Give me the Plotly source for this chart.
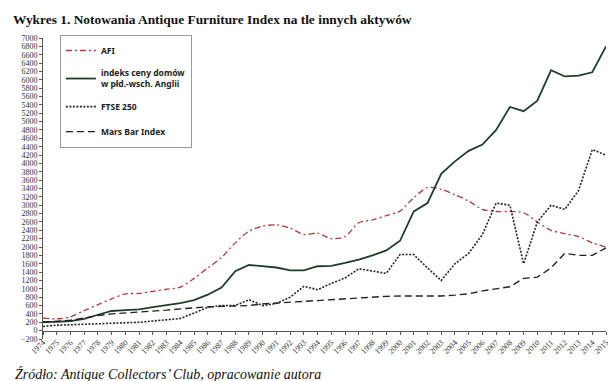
import plotly.graph_objects as go

years = list(range(1974, 2016))

afi = [300, 280, 330, 480, 620, 760, 880, 890, 940, 990, 1040, 1250, 1500, 1750,
       2100, 2380, 2500, 2530, 2450, 2300, 2330, 2200, 2250, 2580, 2650, 2750,
       2860, 3180, 3420, 3380, 3250, 3100, 2900, 2850, 2850, 2820, 2600, 2400,
       2320, 2250, 2100, 2000]

house = [210, 210, 230, 280, 380, 470, 490, 510, 560, 610, 660, 730, 860, 1030,
         1420, 1570, 1540, 1510, 1440, 1440, 1540, 1550, 1620, 1700, 1800, 1920,
         2150, 2850, 3050, 3750, 4050, 4300, 4450, 4800, 5350, 5250, 5500, 6230,
         6080, 6100, 6180, 6800]

ftse = [100, 130, 140, 150, 165, 175, 185, 200, 230, 260, 290, 420, 560, 600,
        600, 740, 600, 650, 800, 1060, 980, 1130, 1260, 1480, 1420, 1370,
        1820, 1820, 1500, 1200, 1600, 1850, 2300, 3050, 3000, 1600, 2600, 3000,
        2900, 3350, 4330, 4200]

mars = [200, 220, 250, 300, 360, 400, 420, 440, 460, 490, 520, 550, 570, 580,
        590, 600, 640, 660, 680, 700, 720, 740, 770, 790, 810, 820, 830, 830,
        830, 830, 850, 880, 950, 1000, 1050, 1250, 1280, 1500, 1850, 1800,
        1800, 1980]

names = ["<b>AFI</b>", "<b>indeks ceny domów<br>w płd.-wsch. Anglii</b>",
         "<b>FTSE 250</b>", "<b>Mars Bar Index</b>"]
y_ticks = list(range(-200, 7001, 200))

fig = go.Figure()
fig.add_trace(go.Scatter(x=years, y=afi, name=names[0], mode="lines", legendgroup="a",
                         line=dict(color="#b23a3a", width=1.3, dash="6px,3px,2px,3px",
                                   shape="spline", smoothing=0.8)))
fig.add_trace(go.Scatter(x=years, y=house, name=names[1], mode="lines", legendgroup="b",
                         line=dict(color="#1f3d2b", width=1.8)))
fig.add_trace(go.Scatter(x=years, y=ftse, name=names[2], mode="lines", legendgroup="c",
                         line=dict(color="#222233", width=1.6, dash="2px,1.5px")))
fig.add_trace(go.Scatter(x=years, y=mars, name=names[3], mode="lines", legendgroup="d",
                         line=dict(color="#222222", width=1.4, dash="7px,4px")))

fig.update_layout(
    width=616, height=381,
    margin=dict(l=35, r=18, t=30, b=50),
    paper_bgcolor="white", plot_bgcolor="white",
    title=dict(text="<b>Wykres 1. Notowania Antique Furniture Index na tle innych aktywów</b>",
               font=dict(family="Liberation Serif", size=13.4, color="#111"),
               x=5/616, xref="container", xanchor="left",
               y=1-11/381, yref="container", yanchor="middle"),
    showlegend=True,
    legend=dict(x=0.03, y=1.01, xanchor="left", yanchor="top",
                bordercolor="#999", borderwidth=1, bgcolor="white",
                font=dict(family="Noto Sans", size=8.5, color="#222"),
                traceorder="grouped", tracegroupgap=6, itemwidth=30),
    xaxis=dict(range=[1974, 2015], tickmode="array", tickvals=years,
               ticktext=[str(y) for y in years], tickangle=-45,
               tickfont=dict(family="Liberation Serif", size=8, color="#333"),
               showline=True, linecolor="#555", linewidth=1,
               ticks="outside", ticklen=3, tickcolor="#555",
               showgrid=False, zeroline=False,
               anchor="free", position=200/7200),
    yaxis=dict(range=[-200, 7000], tickmode="array", tickvals=y_ticks,
               tickfont=dict(family="Liberation Serif", size=8, color="#333"),
               showline=True, linecolor="#555", linewidth=1,
               ticks="outside", ticklen=3, tickcolor="#555",
               showgrid=False, zeroline=False),
)

fig.add_annotation(text="<i>Źródło: Antique Collectors’ Club, opracowanie autora</i>",
                   xref="paper", yref="paper", x=(5-35)/563, y=(331-366)/301,
                   xanchor="left", yanchor="middle", showarrow=False,
                   font=dict(family="Liberation Serif", size=14, color="#111"))

fig.write_html("out.html")
